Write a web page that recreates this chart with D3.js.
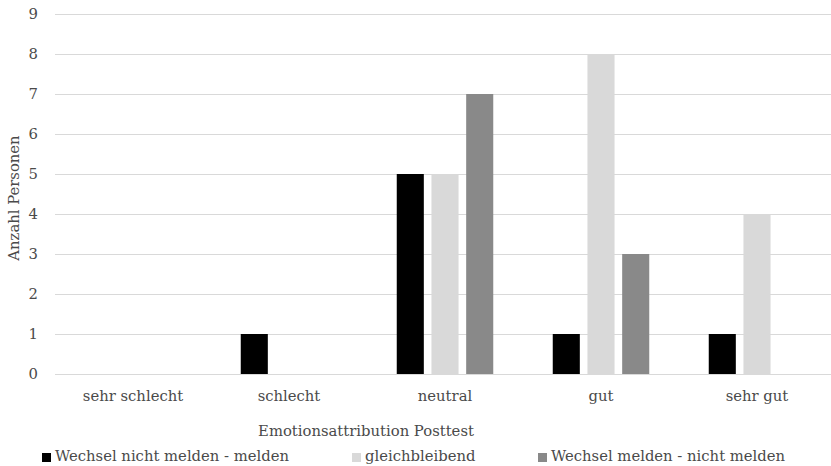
<!DOCTYPE html>
<html>
<head>
<meta charset="utf-8">
<script src="https://cdn.jsdelivr.net/npm/d3@7"></script>
<style>
  html, body { margin: 0; padding: 0; background: #fff; }
  svg { display: block; }
  text { font-family: "DejaVu Serif", "Liberation Serif", serif; fill: #4a4a4a; }
</style>
</head>
<body>
<svg id="chart" width="831" height="466"></svg>
<script>
// Rating categories on the x axis
const categories = ["sehr schlecht", "schlecht", "neutral", "gut", "sehr gut"];
// Series names (legend order)
const seriesNames = ["Wechsel nicht melden - melden", "gleichbleibend", "Wechsel melden - nicht melden"];
// Number of persons per category, one array per series
const wechselNichtMeldenMelden = [0, 1, 5, 1, 1];
const gleichbleibend = [0, 0, 5, 8, 4];
const wechselMeldenNichtMelden = [0, 0, 7, 3, 0];
// Y axis ticks
const yTicks = [0, 1, 2, 3, 4, 5, 6, 7, 8, 9];
const xTitle = "Emotionsattribution Posttest";
const yTitle = "Anzahl Personen";

const seriesValues = [wechselNichtMeldenMelden, gleichbleibend, wechselMeldenNichtMelden];
const colors = ["#000000", "#d9d9d9", "#898989"];
const fontSize = 14.8;

const svg = d3.select("#chart");
const plot = { left: 55, right: 835, top: 14, bottom: 374 };

const y = d3.scaleLinear().domain([0, 9]).range([plot.bottom, plot.top]);
const x0 = d3.scaleBand().domain(categories).range([plot.left, plot.right]).padding(0);
const groupW = 96.5;
const x1 = d3.scaleBand().domain(seriesNames).range([-groupW / 2, groupW / 2])
  .paddingInner(0.22).paddingOuter(0);

// Gridlines
svg.append("g").selectAll("line").data(yTicks).join("line")
  .attr("x1", plot.left).attr("x2", 831)
  .attr("y1", d => Math.round(y(d)) + 0.5).attr("y2", d => Math.round(y(d)) + 0.5)
  .attr("stroke", "#d9d9d9").attr("stroke-width", 1);

// Y tick labels
svg.append("g").selectAll("text").data(yTicks).join("text")
  .attr("x", 38).attr("y", d => y(d))
  .attr("dy", "0.35em").attr("text-anchor", "end")
  .attr("font-size", fontSize).text(d => d);

// Bars
const groups = svg.append("g").selectAll("g").data(categories).join("g")
  .attr("transform", c => `translate(${x0(c) + x0.bandwidth() / 2},0)`);
groups.selectAll("rect")
  .data((c, i) => seriesNames.map((s, k) => ({ s, k, v: seriesValues[k][i] })))
  .join("rect")
  .attr("x", d => x1(d.s))
  .attr("width", x1.bandwidth())
  .attr("y", d => y(d.v))
  .attr("height", d => y(0) - y(d.v))
  .attr("fill", d => colors[d.k]);

// X category labels
svg.append("g").selectAll("text").data(categories).join("text")
  .attr("x", c => x0(c) + x0.bandwidth() / 2).attr("y", 401)
  .attr("text-anchor", "middle").attr("font-size", fontSize).text(c => c);

// Axis titles
svg.append("text").attr("x", 366).attr("y", 436)
  .attr("text-anchor", "middle").attr("font-size", fontSize).text(xTitle);
svg.append("text")
  .attr("transform", "translate(19,198) rotate(-90)")
  .attr("text-anchor", "middle").attr("font-size", fontSize).text(yTitle);

// Legend
const legendX = [42, 352, 538];
const legend = svg.append("g").selectAll("g").data(seriesNames).join("g")
  .attr("transform", (d, i) => `translate(${legendX[i]},462)`);
legend.append("rect").attr("x", 0).attr("y", -9).attr("width", 9).attr("height", 9)
  .attr("fill", (d, i) => colors[i]);
legend.append("text").attr("x", 13).attr("y", -1)
  .attr("font-size", fontSize).text(d => d);
</script>
</body>
</html>
